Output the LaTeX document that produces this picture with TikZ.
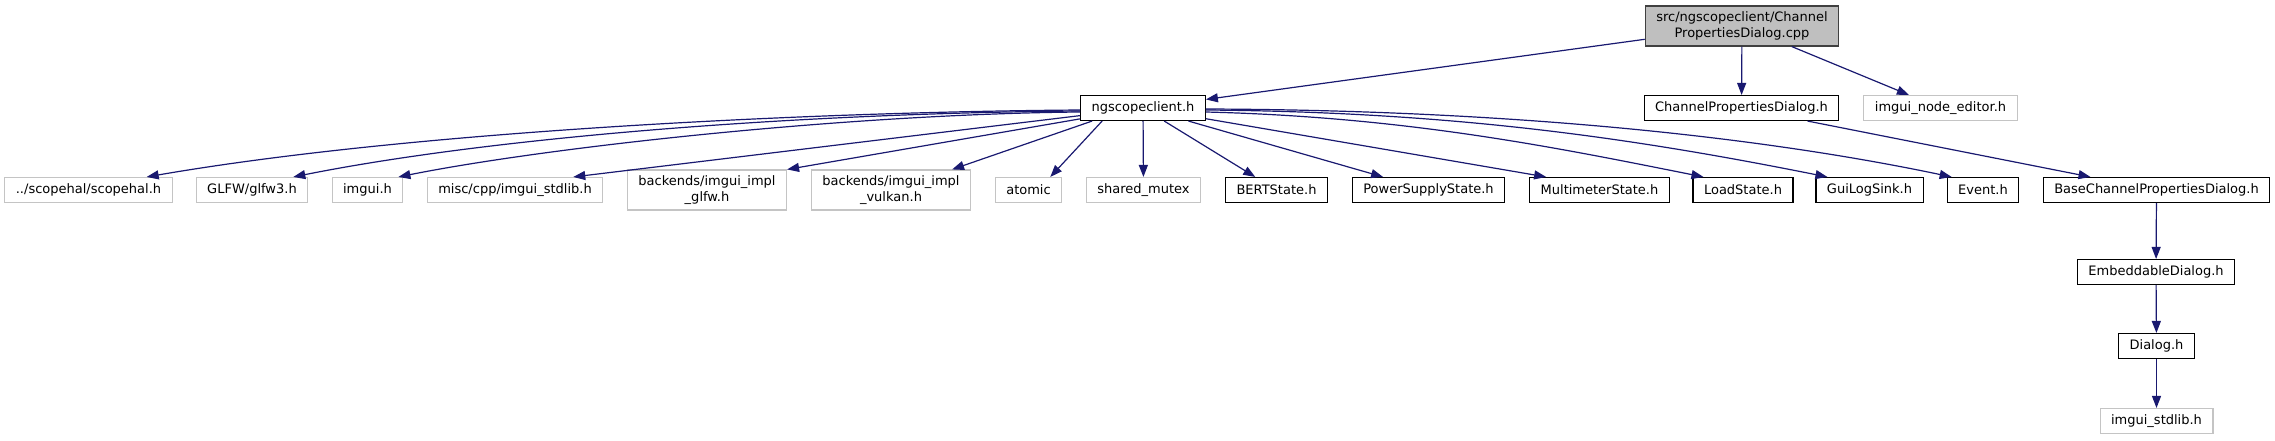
\documentclass[tikz,border=0pt]{standalone}
\usepackage{fontspec}
\setmainfont{DejaVu Sans}
\usetikzlibrary{arrows.meta,calc}
\definecolor{edgeblue}{HTML}{191970}
\definecolor{rootfill}{HTML}{BFBFBF}
\definecolor{rootline}{HTML}{404040}
\definecolor{extline}{HTML}{C4C4C4}
\tikzset{
  hfile/.style={draw=black, fill=white, line width=1.1pt, minimum height=25pt,
    inner xsep=11pt, inner ysep=1pt, align=center,
    font={\fontsize{13}{16}\selectfont}},
  hext/.style={hfile, draw=extline},
  htwo/.style={minimum height=40pt},
  hroot/.style={hfile, htwo, fill=rootfill, draw=rootline},
  incl/.style={draw=edgeblue, line width=1.2pt, -{Triangle[length=12pt,width=9pt]}}
}
\begin{document}
\begin{tikzpicture}[x=1pt, y=-1pt]
  \useasboundingbox (0,0) rectangle (2275,440);

  % top rows
  \node[hroot] (root) at (1742,26) {src/ngscopeclient/Channel\\PropertiesDialog.cpp};
  \node[hfile] (ngs) at (1143,108) {ngscopeclient.h};
  \node[hfile] (chan) at (1741.5,108) {ChannelPropertiesDialog.h};
  \node[hext] (nodeed) at (1940.5,108) {imgui\_node\_editor.h};

  % headers pulled in by ngscopeclient.h
  \node[hext] (scopehal) at (88.5,190) {../scopehal/scopehal.h};
  \node[hext] (glfw) at (252,190) {GLFW/glfw3.h};
  \node[hext] (imgui) at (367.5,190) {imgui.h};
  \node[hext] (stdlib) at (515,190) {misc/cpp/imgui\_stdlib.h};
  \node[hext, htwo] (implglfw) at (707,190) {backends/imgui\_impl\\\_glfw.h};
  \node[hext, htwo] (implvulkan) at (891,190) {backends/imgui\_impl\\\_vulkan.h};
  \node[hext] (atomic) at (1028.5,190) {atomic};
  \node[hext] (mutex) at (1143.5,190) {shared\_mutex};
  \node[hfile] (bert) at (1276.5,190) {BERTState.h};
  \node[hfile] (power) at (1428.5,190) {PowerSupplyState.h};
  \node[hfile] (multi) at (1599.5,190) {MultimeterState.h};
  \node[hfile] (load) at (1743,190) {LoadState.h};
  \node[hfile] (guilog) at (1869.5,190) {GuiLogSink.h};
  \node[hfile] (event) at (1983,190) {Event.h};
  \node[hfile] (base) at (2156.5,190) {BaseChannelPropertiesDialog.h};

  % dialog chain
  \node[hfile] (embed) at (2156,272) {EmbeddableDialog.h};
  \node[hfile] (dlg) at (2156.5,346) {Dialog.h};
  \node[hext] (imstd) at (2156.5,421) {imgui\_stdlib.h};

  \draw[incl] (root) -- (ngs);
  \draw[incl] (root) -- (chan);
  \draw[incl] (root) -- (nodeed);
  \draw[incl] (chan) -- (base);
  \draw[incl] (base) -- (embed);
  \draw[incl] (embed) -- (dlg);
  \draw[incl] (dlg) -- (imstd);

  % left fan
  \draw[incl] ($(ngs.west)+(0,2)$) .. controls +(-280,2) and +(260,-45) .. ($(scopehal.north east)+(-26,0)$);
  \draw[incl] ($(ngs.west)+(0,3)$) .. controls +(-280,2) and +(200,-40) .. ($(glfw.north east)+(-15,0)$);
  \draw[incl] ($(ngs.west)+(0,4)$) .. controls +(-230,2) and +(150,-30) .. ($(imgui.north east)+(-5,0)$);
  \draw[incl] (ngs) -- ($(stdlib.north east)+(-30,0)$);
  \draw[incl] (ngs) -- (implglfw.north east);
  \draw[incl] ($(ngs.south west)+(12,0)$) -- ($(implvulkan.north east)+(-19,0)$);
  \draw[incl] ($(ngs.south west)+(22,0)$) -- ($(atomic.north east)+(-12,0)$);
  \draw[incl] (ngs) -- (mutex);

  % right fan
  \draw[incl] (ngs) -- (bert);
  \draw[incl] (ngs) -- (power);
  \draw[incl] (ngs) -- ($(multi.north west)+(17,0)$);
  \draw[incl] ($(ngs.east)+(0,4)$) .. controls +(200,5) and +(-150,-30) .. ($(load.north west)+(11,0)$);
  \draw[incl] ($(ngs.east)+(0,2)$) .. controls +(245,2) and +(-200,-40) .. ($(guilog.north west)+(12,0)$);
  \draw[incl] ($(ngs.east)+(0,1)$) .. controls +(295,1) and +(-200,-42) .. ($(event.north west)+(5,0)$);
\end{tikzpicture}
\end{document}
